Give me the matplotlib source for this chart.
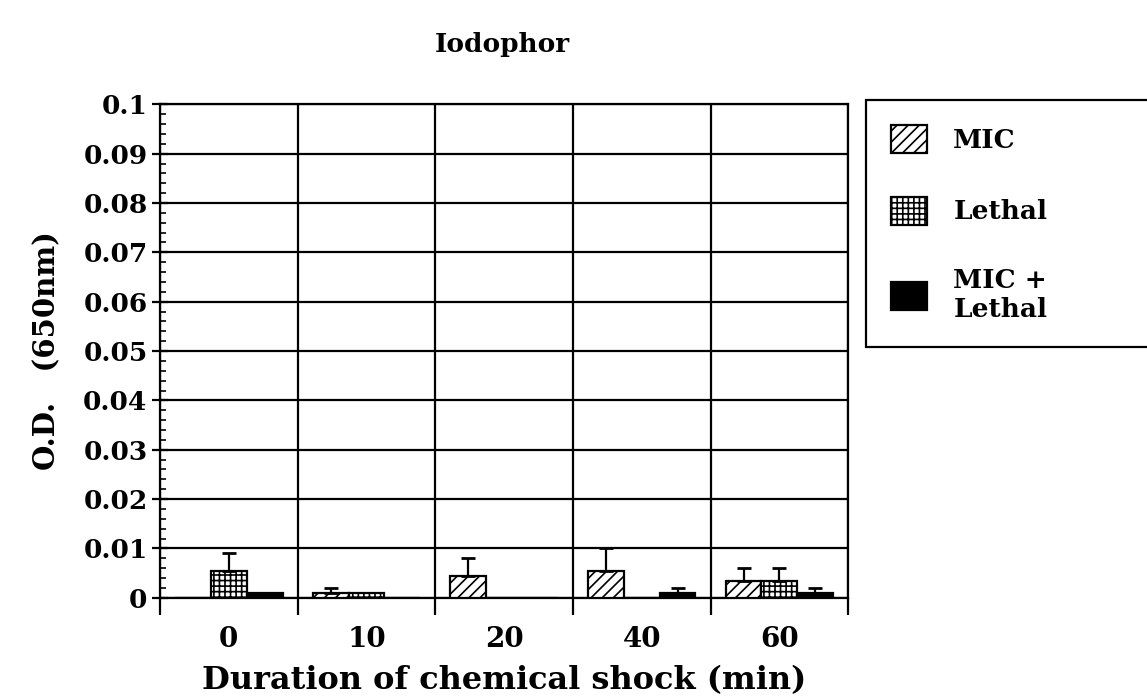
import numpy as np
import matplotlib.pyplot as plt
from matplotlib.patches import Patch

durations = ['0', '10', '20', '40', '60']
mic = [0.0, 0.001, 0.0045, 0.0055, 0.0035]
mic_err = [0.0, 0.001, 0.0035, 0.0045, 0.0025]
lethal = [0.0055, 0.001, 0.0, 0.0, 0.0035]
lethal_err = [0.0035, 0.0, 0.0, 0.0, 0.0025]
combo = [0.001, 0.0, 0.0, 0.001, 0.001]
combo_err = [0.0, 0.0, 0.0, 0.001, 0.001]
ytick_labels = ['0', '0.01', '0.02', '0.03', '0.04', '0.05', '0.06',
                '0.07', '0.08', '0.09', '0.1']

plt.rcParams['font.family'] = ['DejaVu Serif']
plt.rcParams['font.weight'] = 'bold'
plt.rcParams['hatch.linewidth'] = 1.2

fig = plt.figure(figsize=(11.47, 7.0), dpi=100)
ax = fig.add_axes([0.1395, 0.146, 0.6, 0.705])

x = np.arange(len(durations))
w = 0.26
series = [
    (mic, mic_err, -w, dict(facecolor='white', hatch='///')),
    (lethal, lethal_err, 0, dict(facecolor='white', hatch='+++')),
    (combo, combo_err, w, dict(facecolor='black')),
]
for vals, errs, off, style in series:
    ax.bar(x + off, vals, width=w, edgecolor='black', linewidth=1.6, zorder=3, **style)
    for xi, v, e in zip(x + off, vals, errs):
        if e > 0:
            ax.errorbar(xi, v, yerr=[[0], [e]], fmt='none', ecolor='black',
                        elinewidth=1.6, capsize=5, capthick=2, zorder=4)

ax.set_xlim(-0.5, len(durations) - 0.5)
ax.set_ylim(0, 0.1)

# boundaries between groups get the tick marks, group centres get the labels
ax.set_xticks(np.arange(-0.5, len(durations), 1.0))
ax.set_xticklabels([])
ax.set_xticks(x, minor=True)
ax.set_xticklabels(durations, minor=True)
ax.tick_params(axis='x', which='major', direction='out', length=12, width=1.6)
ax.tick_params(axis='x', which='minor', length=0, pad=20, labelsize=20)

ax.set_yticks(np.arange(0, 0.101, 0.01))
ax.set_yticklabels(ytick_labels)
ax.set_yticks(np.arange(0, 0.1001, 0.002), minor=True)
ax.tick_params(axis='y', which='major', direction='inout', length=12, width=1.6,
               labelsize=19, pad=3)
ax.tick_params(axis='y', which='minor', direction='in', length=4.5, width=1.2)

ax.grid(axis='both', which='major', color='black', linewidth=1.6, zorder=0)
for s in ax.spines.values():
    s.set_linewidth(1.6)

ax.set_xlabel('Duration of chemical shock (min)', fontsize=23, fontweight='bold', labelpad=9)
ax.set_ylabel('O.D.   (650nm)', fontsize=21, fontweight='bold', labelpad=16)
fig.text(0.438, 0.936, 'Iodophor', ha='center', va='center', fontsize=19, fontweight='bold')

handles = [
    Patch(facecolor='white', edgecolor='black', hatch='///', linewidth=1.6),
    Patch(facecolor='white', edgecolor='black', hatch='+++', linewidth=1.6),
    Patch(facecolor='black', edgecolor='black', linewidth=1.6),
]
leg = fig.legend(handles, ['MIC', 'Lethal', 'MIC +\nLethal'],
                 loc='upper left', bbox_to_anchor=(0.755, 0.857, 0.3, 0.0),
                 mode='expand', borderaxespad=0, fancybox=False, framealpha=1,
                 edgecolor='black', fontsize=19, handlelength=1.36, handleheight=1.25,
                 labelspacing=1.65, borderpad=0.95, handletextpad=1.0)
leg.get_frame().set_linewidth(1.6)

fig.savefig('out.png', dpi=100)
